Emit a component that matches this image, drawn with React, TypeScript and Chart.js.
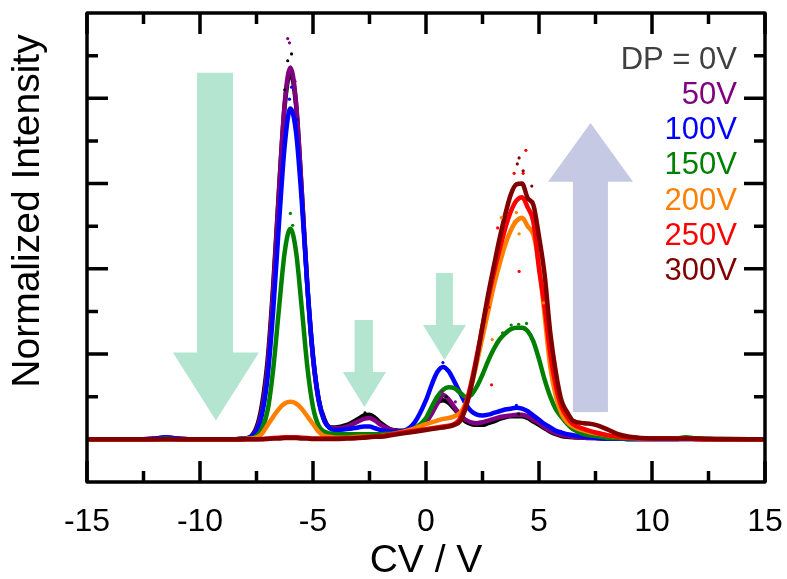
import React, { useEffect, useRef } from "react";
import { Chart, registerables } from "chart.js";

Chart.register(...registerables);

// Shared CV grid (V)
const CV = [
  -15, -13, -12, -11.5, -11, -10, -9, -8,
  -7.5, -7.25, -7, -6.75, -6.5, -6.25, -6, -5.75, -5.5, -5.25, -5, -4.75, -4.5, -4.25, -4,
  -3.5, -3, -2.75, -2.5, -2.25, -2, -1.5, -1, -0.5,
  0, 0.25, 0.5, 0.75, 1, 1.25, 1.5, 1.75, 2, 2.25, 2.5, 2.75, 3, 3.25, 3.5, 3.75, 4, 4.25, 4.5, 4.75, 5, 5.25, 5.5, 5.75, 6, 6.25, 6.5,
  7, 7.5, 8, 8.5, 9, 10, 11, 11.5, 12, 13, 15,
];

const DP_0V = [
  0, 0, 0.005, 0.015, 0.005, 0, 0, 0.01,
  0.14, 0.42, 0.95, 1.85, 2.95, 3.92, 4.3, 3.92, 2.92, 1.8, 0.97, 0.47, 0.24, 0.14, 0.14,
  0.17, 0.24, 0.28, 0.29, 0.25, 0.19, 0.11, 0.1, 0.13,
  0.22, 0.33, 0.43, 0.46, 0.43, 0.36, 0.28, 0.21, 0.18, 0.17, 0.17, 0.19, 0.21, 0.24, 0.26, 0.27, 0.27, 0.27, 0.25, 0.21, 0.17, 0.13, 0.09, 0.06, 0.04, 0.03, 0.025,
  0.02, 0.015, 0.01, 0.01, 0.005, 0.005, 0.005, 0.01, 0.005, 0, 0,
];

const DP_50V = [
  0, 0, 0.01, 0.025, 0.01, 0, 0, 0.005,
  0.12, 0.36, 0.88, 1.79, 2.92, 3.95, 4.36, 3.95, 2.92, 1.79, 0.95, 0.45, 0.22, 0.14, 0.13,
  0.15, 0.21, 0.24, 0.25, 0.22, 0.17, 0.11, 0.09, 0.12,
  0.2, 0.3, 0.42, 0.52, 0.47, 0.38, 0.29, 0.23, 0.2, 0.19, 0.2, 0.22, 0.24, 0.26, 0.27, 0.28, 0.29, 0.29, 0.27, 0.23, 0.19, 0.14, 0.1, 0.07, 0.05, 0.04, 0.03,
  0.02, 0.015, 0.01, 0.01, 0.005, 0.005, 0.005, 0.005, 0.005, 0, 0,
];

const DP_100V = [
  0, 0, 0.01, 0.025, 0.01, 0, 0, 0.01,
  0.1, 0.3, 0.75, 1.55, 2.55, 3.45, 3.88, 3.6, 2.8, 1.8, 0.98, 0.47, 0.22, 0.13, 0.11,
  0.12, 0.14, 0.15, 0.15, 0.13, 0.11, 0.09, 0.1, 0.2,
  0.46, 0.64, 0.79, 0.85, 0.8, 0.68, 0.55, 0.42, 0.33, 0.29, 0.28, 0.29, 0.31, 0.33, 0.35, 0.36, 0.37, 0.36, 0.33, 0.28, 0.23, 0.18, 0.14, 0.1, 0.08, 0.06, 0.05,
  0.03, 0.02, 0.01, 0.01, 0.005, 0.005, 0.005, 0.005, 0.005, 0, 0,
];

const DP_150V = [
  0, 0, 0, 0.01, 0, 0, 0, 0.005,
  0.04, 0.13, 0.35, 0.85, 1.55, 2.2, 2.47, 2.2, 1.55, 0.85, 0.38, 0.16, 0.09, 0.07, 0.06,
  0.06, 0.06, 0.06, 0.06, 0.06, 0.06, 0.07, 0.08, 0.13,
  0.25, 0.38, 0.5, 0.58, 0.61, 0.6, 0.55, 0.5, 0.52, 0.62, 0.76, 0.92, 1.06, 1.17, 1.24, 1.29, 1.31, 1.31, 1.27, 1.15, 0.94, 0.7, 0.5, 0.35, 0.26, 0.18, 0.12,
  0.06, 0.04, 0.02, 0.015, 0.01, 0.01, 0.01, 0.025, 0.01, 0.005, 0,
];

const DP_200V = [
  0, 0, 0, 0, 0, 0, 0, 0.005,
  0.02, 0.07, 0.17, 0.27, 0.36, 0.42, 0.44, 0.42, 0.36, 0.27, 0.18, 0.09, 0.04, 0.03, 0.02,
  0.02, 0.03, 0.03, 0.03, 0.035, 0.04, 0.06, 0.09, 0.13,
  0.18, 0.2, 0.22, 0.24, 0.25, 0.27, 0.31, 0.42, 0.62, 0.9, 1.2, 1.5, 1.8, 2.05, 2.28, 2.45, 2.56, 2.6, 2.5, 2.4, 2.05, 1.45, 0.85, 0.5, 0.3, 0.2, 0.15,
  0.1, 0.07, 0.05, 0.03, 0.02, 0.01, 0.01, 0.01, 0.005, 0, 0,
];

const DP_250V = [
  0, 0, 0, 0, 0, 0, 0, 0,
  0, 0.005, 0.01, 0.015, 0.02, 0.025, 0.025, 0.025, 0.02, 0.015, 0.01, 0.01, 0.01, 0.01, 0.01,
  0.015, 0.02, 0.025, 0.03, 0.035, 0.04, 0.06, 0.08, 0.1,
  0.12, 0.13, 0.14, 0.15, 0.16, 0.18, 0.24, 0.4, 0.66, 0.98, 1.32, 1.65, 1.95, 2.22, 2.47, 2.67, 2.8, 2.84, 2.72, 2.55, 2.0, 1.55, 1.0, 0.62, 0.38, 0.26, 0.18,
  0.12, 0.08, 0.05, 0.03, 0.02, 0.01, 0.01, 0.01, 0.005, 0, 0,
];

const DP_300V = [
  0, 0, 0, 0, 0, 0, 0, 0,
  0, 0, 0.005, 0.01, 0.01, 0.015, 0.015, 0.015, 0.01, 0.01, 0.005, 0.005, 0.005, 0.005, 0.005,
  0.01, 0.015, 0.02, 0.025, 0.03, 0.03, 0.05, 0.07, 0.09,
  0.11, 0.12, 0.13, 0.14, 0.15, 0.17, 0.21, 0.36, 0.62, 0.95, 1.33, 1.7, 2.03, 2.35, 2.63, 2.87, 2.99, 3.0, 2.83, 2.75, 2.38, 1.93, 1.25, 0.78, 0.45, 0.32, 0.22,
  0.19, 0.17, 0.12, 0.06, 0.03, 0.01, 0.01, 0.01, 0.01, 0.005, 0,
];

// Scattered raw points [CV, intensity]
const DOTS_0V = [[-5.95, 4.52], [-6.12, 4.44], [-6.25, 4.1], [-2.7, 0.31], [0.9, 0.5], [4.1, 0.3]];
const DOTS_50V = [[-6.12, 4.7], [-6.04, 4.65], [-5.8, 4.2], [0.7, 0.56], [1.3, 0.44]];
const DOTS_100V = [[-5.95, 4.13], [-6.04, 3.99], [-5.7, 3.75], [0.75, 0.9], [4.0, 0.4]];
const DOTS_150V = [[-6.0, 2.65], [-5.9, 2.51], [3.77, 1.34], [4.45, 1.36], [3.39, 1.25], [4.1, 1.35]];
const DOTS_200V = [[3.33, 2.6], [4.12, 2.41], [4.0, 2.66], [2.93, 1.17], [5.2, 1.6], [3.9, 2.55]];
const DOTS_250V = [[4.42, 3.39], [3.9, 3.12], [4.3, 3.12], [4.12, 1.97], [2.9, 0.64], [3.17, 2.48], [2.78, 1.55]];
const DOTS_300V = [[4.12, 3.3], [4.04, 3.23], [4.68, 2.97], [4.3, 3.15]];

const LABELS = ["DP = 0V", "50V", "100V", "150V", "200V", "250V", "300V"];
const X_TICKS = [-15, -10, -5, 0, 5, 10, 15];

const COLORS = ["#000000", "#800080", "#0000ff", "#008000", "#ff8000", "#ff0000", "#800000"];
const LABEL_COLORS = ["#404040", "#800080", "#0000ff", "#008000", "#ff8000", "#ff0000", "#800000"];

// Arrow annotations in data coordinates
const ARROWS = [
  { x0: -10.13, x1: -8.54, hx0: -11.2, hx1: -7.39, yTail: 4.3, yBase: 1.02, yTip: 0.22, color: "#b3e5d0" },
  { x0: -3.16, x1: -2.35, hx0: -3.68, hx1: -1.77, yTail: 1.4, yBase: 0.79, yTip: 0.38, color: "#b3e5d0" },
  { x0: 0.44, x1: 1.19, hx0: -0.13, hx1: 1.77, yTail: 1.95, yBase: 1.34, yTip: 0.93, color: "#b3e5d0" },
  { x0: 6.5, x1: 8.05, hx0: 5.4, hx1: 9.16, yTail: 0.32, yBase: 3.02, yTip: 3.71, color: "#c6c9e3" },
];

const FONT = '"Liberation Sans", Arial, Helvetica, sans-serif';

const decoPlugin = {
  id: "deco",
  beforeDatasetsDraw(chart: any) {
    const { ctx, chartArea: a, scales } = chart;
    const xs = scales.x;
    const ys = scales.y;
    ctx.save();
    for (const ar of ARROWS) {
      const px = (v: number) => xs.getPixelForValue(v);
      const py = (v: number) => ys.getPixelForValue(v);
      const tipX = (ar.hx0 + ar.hx1) / 2;
      ctx.fillStyle = ar.color;
      ctx.beginPath();
      ctx.moveTo(px(ar.x0), py(ar.yTail));
      ctx.lineTo(px(ar.x1), py(ar.yTail));
      ctx.lineTo(px(ar.x1), py(ar.yBase));
      ctx.lineTo(px(ar.hx1), py(ar.yBase));
      ctx.lineTo(px(tipX), py(ar.yTip));
      ctx.lineTo(px(ar.hx0), py(ar.yBase));
      ctx.lineTo(px(ar.x0), py(ar.yBase));
      ctx.closePath();
      ctx.fill();
    }
    // inward ticks
    ctx.strokeStyle = "#000";
    ctx.lineWidth = 3.5;
    ctx.beginPath();
    for (let v = -15; v <= 15; v += 2.5) {
      const major = Math.abs(v % 5) < 1e-9;
      const len = major ? 21 : 11;
      const p = xs.getPixelForValue(v);
      ctx.moveTo(p, a.top);
      ctx.lineTo(p, a.top + len);
      ctx.moveTo(p, a.bottom);
      ctx.lineTo(p, a.bottom - len);
    }
    for (let v = 0; v <= 4.51; v += 0.5) {
      const major = Math.abs(v % 1) < 1e-9;
      const len = major ? 21 : 11;
      const p = ys.getPixelForValue(v);
      ctx.moveTo(a.left, p);
      ctx.lineTo(a.left + len, p);
      ctx.moveTo(a.right, p);
      ctx.lineTo(a.right - len, p);
    }
    ctx.stroke();
    ctx.restore();
  },
  afterDatasetsDraw(chart: any) {
    const { ctx, chartArea: a } = chart;
    ctx.save();
    ctx.strokeStyle = "#000";
    ctx.lineWidth = 3.5;
    ctx.lineJoin = "round";
    ctx.strokeRect(a.left, a.top, a.right - a.left, a.bottom - a.top);
    // series labels
    ctx.font = `31px ${FONT}`;
    ctx.textAlign = "right";
    ctx.textBaseline = "middle";
    LABELS.forEach((t, i) => {
      ctx.fillStyle = LABEL_COLORS[i];
      ctx.fillText(t, a.right - 28, a.top + 47 + i * 35.3);
    });
    // y title
    ctx.translate(28, 211);
    ctx.rotate(-Math.PI / 2);
    ctx.textAlign = "center";
    ctx.fillStyle = "#000";
    ctx.font = `39px ${FONT}`;
    ctx.fillText("Normalized Intensity", 0, 0);
    ctx.restore();
  },
};

function lineSet(label: string, values: number[], color: string, order: number) {
  return {
    label,
    data: CV.map((x, i) => ({ x, y: values[i] })),
    borderColor: color,
    backgroundColor: color,
    borderWidth: 4.5,
    pointRadius: 0,
    cubicInterpolationMode: "monotone" as const,
    fill: false,
    order,
  };
}

function dotSet(label: string, pts: number[][], color: string) {
  return {
    label,
    data: pts.map(([x, y]) => ({ x, y })),
    borderColor: color,
    backgroundColor: color,
    showLine: false,
    pointRadius: 1.6,
    pointBorderWidth: 0,
    order: -1,
  };
}

export default function App() {
  const ref = useRef<HTMLCanvasElement | null>(null);
  useEffect(() => {
    if (!ref.current) return;
    Chart.defaults.font.family = FONT;
    const series = [DP_0V, DP_50V, DP_100V, DP_150V, DP_200V, DP_250V, DP_300V];
    const dots = [DOTS_0V, DOTS_50V, DOTS_100V, DOTS_150V, DOTS_200V, DOTS_250V, DOTS_300V];
    const datasets: any[] = [];
    series.forEach((s, i) => datasets.push(lineSet(LABELS[i], s, COLORS[i], 6 - i)));
    dots.forEach((d, i) => datasets.push(dotSet(LABELS[i] + " raw", d, COLORS[i])));
    const chart = new Chart(ref.current, {
      type: "line",
      data: { datasets },
      options: {
        animation: false,
        responsive: false,
        devicePixelRatio: 1,
        layout: { padding: { left: 87, right: 22, top: 13, bottom: 0 } },
        plugins: { legend: { display: false }, tooltip: { enabled: false } },
        scales: {
          x: {
            type: "linear",
            min: -15,
            max: 15,
            afterBuildTicks: (scale: any) => {
              scale.ticks = X_TICKS.map((v) => ({ value: v }));
            },
            afterFit: (scale: any) => {
              scale.height = 97;
              scale.paddingLeft = 0;
              scale.paddingRight = 0;
            },
            grid: { display: false, drawTicks: false },
            border: { display: false },
            ticks: { font: { size: 32 }, color: "#000", padding: 21, maxRotation: 0, autoSkip: false },
            title: {
              display: true,
              text: "CV / V",
              color: "#000",
              font: { size: 39, lineHeight: 0.92 },
              padding: { top: 0, bottom: 0 },
            },
          },
          y: { type: "linear", min: -0.5, max: 5, display: false },
        },
      },
      plugins: [decoPlugin],
    });
    return () => chart.destroy();
  }, []);
  return (
    <div style={{ position: "fixed", left: 0, top: 0, width: 787, height: 579, background: "#fff" }}>
      <canvas ref={ref} width={787} height={579} style={{ display: "block" }} />
    </div>
  );
}
